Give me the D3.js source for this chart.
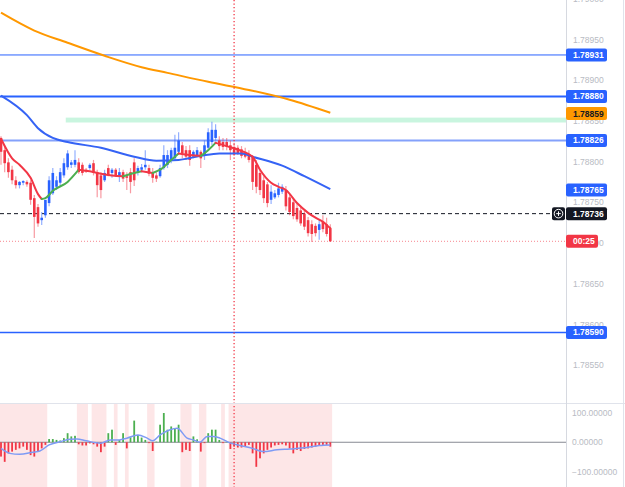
<!DOCTYPE html>
<html>
<head>
<meta charset="utf-8">
<script src="https://cdn.jsdelivr.net/npm/d3@7"></script>
<style>
  html, body { margin: 0; padding: 0; background: #fff; overflow: hidden; }
  svg { display: block; }
  text { font-family: "Liberation Sans", Arial, sans-serif; }
</style>
</head>
<body>
<svg id="chart"></svg>
<script>
// ---------- data ----------
// candles: [open, high, low, close]
const candles = [
  [1.78829, 1.78831, 1.78796, 1.78812], [1.78814, 1.78819, 1.78787, 1.78798],
  [1.78799, 1.78804, 1.78780, 1.78787], [1.78790, 1.78795, 1.78772, 1.78777],
  [1.78777, 1.78782, 1.78767, 1.78771], [1.78771, 1.78776, 1.78767, 1.78775],
  [1.78774, 1.78777, 1.78771, 1.78776], [1.78775, 1.78777, 1.78769, 1.78772],
  [1.78774, 1.78777, 1.78747, 1.78753], [1.78755, 1.78759, 1.78706, 1.78732],
  [1.78744, 1.78748, 1.78720, 1.78724], [1.78728, 1.78738, 1.78722, 1.78731],
  [1.78734, 1.78743, 1.78731, 1.78753], [1.78749, 1.78782, 1.78745, 1.78777],
  [1.78761, 1.78792, 1.78759, 1.78786], [1.78769, 1.78782, 1.78765, 1.78777],
  [1.78774, 1.78792, 1.78770, 1.78787], [1.78783, 1.78804, 1.78780, 1.78798],
  [1.78793, 1.78814, 1.78790, 1.78810], [1.78796, 1.78802, 1.78792, 1.78799],
  [1.78796, 1.78814, 1.78793, 1.78802], [1.78799, 1.78804, 1.78785, 1.78787],
  [1.78796, 1.78799, 1.78783, 1.78786], [1.78790, 1.78792, 1.78786, 1.78788],
  [1.78792, 1.78798, 1.78790, 1.78796], [1.78798, 1.78802, 1.78783, 1.78786],
  [1.78787, 1.78790, 1.78756, 1.78771], [1.78783, 1.78787, 1.78755, 1.78765],
  [1.78777, 1.78790, 1.78775, 1.78786], [1.78792, 1.78796, 1.78782, 1.78783],
  [1.78786, 1.78792, 1.78780, 1.78790], [1.78790, 1.78792, 1.78781, 1.78783],
  [1.78781, 1.78792, 1.78775, 1.78787], [1.78787, 1.78790, 1.78775, 1.78779],
  [1.78782, 1.78787, 1.78765, 1.78780], [1.78787, 1.78792, 1.78761, 1.78775],
  [1.78799, 1.78804, 1.78770, 1.78777], [1.78787, 1.78795, 1.78783, 1.78792],
  [1.78790, 1.78797, 1.78787, 1.78793], [1.78793, 1.78814, 1.78790, 1.78796],
  [1.78792, 1.78796, 1.78782, 1.78785], [1.78787, 1.78792, 1.78774, 1.78780],
  [1.78783, 1.78787, 1.78775, 1.78779], [1.78782, 1.78796, 1.78780, 1.78792],
  [1.78792, 1.78820, 1.78790, 1.78808], [1.78796, 1.78814, 1.78792, 1.78808],
  [1.78802, 1.78817, 1.78798, 1.78814], [1.78804, 1.78833, 1.78802, 1.78817],
  [1.78812, 1.78836, 1.78809, 1.78826], [1.78820, 1.78824, 1.78804, 1.78810],
  [1.78814, 1.78819, 1.78802, 1.78806], [1.78814, 1.78820, 1.78795, 1.78802],
  [1.78806, 1.78814, 1.78804, 1.78812], [1.78808, 1.78818, 1.78806, 1.78814],
  [1.78812, 1.78814, 1.78792, 1.78804], [1.78808, 1.78826, 1.78802, 1.78820],
  [1.78817, 1.78841, 1.78814, 1.78836], [1.78824, 1.78849, 1.78820, 1.78839],
  [1.78829, 1.78846, 1.78826, 1.78839], [1.78826, 1.78831, 1.78814, 1.78819],
  [1.78824, 1.78829, 1.78814, 1.78818], [1.78824, 1.78829, 1.78814, 1.78818],
  [1.78820, 1.78826, 1.78802, 1.78814], [1.78818, 1.78823, 1.78807, 1.78809],
  [1.78817, 1.78820, 1.78808, 1.78810], [1.78815, 1.78819, 1.78804, 1.78807],
  [1.78812, 1.78817, 1.78804, 1.78806], [1.78809, 1.78814, 1.78799, 1.78802],
  [1.78806, 1.78808, 1.78765, 1.78775], [1.78796, 1.78802, 1.78761, 1.78769],
  [1.78786, 1.78790, 1.78759, 1.78765], [1.78777, 1.78782, 1.78749, 1.78755],
  [1.78772, 1.78775, 1.78744, 1.78749], [1.78753, 1.78771, 1.78748, 1.78763],
  [1.78756, 1.78765, 1.78754, 1.78761], [1.78759, 1.78774, 1.78756, 1.78767],
  [1.78763, 1.78772, 1.78760, 1.78769], [1.78765, 1.78770, 1.78740, 1.78745],
  [1.78756, 1.78760, 1.78734, 1.78738], [1.78750, 1.78754, 1.78729, 1.78733],
  [1.78743, 1.78748, 1.78726, 1.78729], [1.78740, 1.78744, 1.78721, 1.78724],
  [1.78736, 1.78740, 1.78716, 1.78720], [1.78728, 1.78732, 1.78708, 1.78712],
  [1.78723, 1.78728, 1.78701, 1.78711], [1.78721, 1.78724, 1.78708, 1.78712],
  [1.78716, 1.78728, 1.78704, 1.78723], [1.78726, 1.78734, 1.78713, 1.78717],
  [1.78723, 1.78731, 1.78708, 1.78711], [1.78718, 1.78723, 1.78701, 1.78702]
];

// moving averages: [candle index, price]
const slowMa = [
  [0, 1.78983], [9, 1.78961], [18, 1.78946], [28, 1.78930], [38, 1.78916],
  [45, 1.78909], [56, 1.78898], [67, 1.78888], [78, 1.78876], [89, 1.78860]
];
const midMa = [
  [0, 1.78881], [7, 1.78857], [10, 1.78841], [14, 1.78829], [18, 1.78824],
  [27, 1.78817], [36, 1.78806], [42, 1.78801], [48, 1.78802], [54, 1.78807],
  [59, 1.78810], [65, 1.78810], [68, 1.78806], [76, 1.78795], [82, 1.78782],
  [89, 1.78766]
];
const fastMa = [
  [0, 1.78828], [3, 1.78804], [5, 1.78796], [8, 1.78780], [10, 1.78760],
  [11, 1.78754], [12, 1.78755], [14, 1.78764], [18, 1.78775], [21, 1.78790],
  [24, 1.78788], [27, 1.78785], [30, 1.78783], [33, 1.78782], [36, 1.78786],
  [38, 1.78788], [41, 1.78786], [43, 1.78790], [46, 1.78802], [48, 1.78810],
  [51, 1.78808], [54, 1.78807], [56, 1.78814], [58, 1.78823], [61, 1.78819],
  [65, 1.78813], [68, 1.78806], [70, 1.78790], [73, 1.78774], [75, 1.78769],
  [77, 1.78765], [80, 1.78749], [83, 1.78737], [85, 1.78731], [87, 1.78726],
  [89, 1.78718]
];

// oscillator histogram, one value per candle
const oscHist = [
  -49, -67, -38, -32, -26, -21, -15, -26, -44, -49, -32, -21, -9,
  11, 11, 8, 6, 14, 31, 20, 22,
  -7, -11, -11, -4, -7, -15, -34, -15,
  31, 43, -9, 8, 31, -21, 17, 74, 25, 16, 8, -3, -30, 2,
  60, 100, 43, 54, 48, 60, -34, -26, -30, 20, 10, -32, -3,
  31, 43, 43, 8, -3, 1, -23, -15, -18, -18, -15, -9, -38, -84, -55,
  -38, -26, -18, -11, -9, -7, -11, -21, -38, -26, -30, -23, -21, -18,
  -15, -11, -9, -9, -15
];
const oscSignal = [
  [0, -21], [2.4, -38], [5, -41], [8.6, -34], [10.5, -30], [13, -9], [16, 2],
  [18.6, 10], [20.5, 11], [23, 5], [27, -3], [29.5, 8], [32, 8], [34, 14],
  [37, 25], [39.5, 14], [41, 5], [43, 25], [45.7, 43], [47.6, 48], [50.3, 14],
  [52, 8], [53.8, 0], [55.7, 20], [57.3, 20], [59.2, 14], [62, -3], [64.6, -11],
  [68, -21], [70.8, -32], [74.6, -26], [78, -23], [82.7, -18], [86, -11], [89, -9]
];
// shaded candle ranges in the oscillator pane [from, to]
const redZones = [
  [0, 12], [21, 23], [25, 28], [31, 31], [34, 34], [40, 41],
  [49, 51], [54, 55], [60, 60], [62, 89]
];

const priceTicks = [1.79000, 1.78950, 1.78900, 1.78850, 1.78800, 1.78750,
                    1.78700, 1.78650, 1.78600, 1.78550];
const oscTicks = [100, 0, -100];

const levelPrices = [1.78931, 1.78880, 1.78826, 1.78590];
const zonePrices = [1.78848, 1.78854];
const zoneStart = 18;
const tagPrices = [1.78931, 1.78880, 1.78859, 1.78826, 1.78765, 1.78736, 1.78590];
const tagKinds = ["level", "level", "slow", "level", "mid", "cursor", "level"];
const cursorIndex = 63;
const cursorPrice = 1.78736;
const countdown = "00:25";

// ---------- layout ----------
const width = 625, height = 487;
const axisX = 566;
const paneSplit = 403;

const svg = d3.select("#chart").attr("width", width).attr("height", height);

const x = d3.scaleLinear().domain([0, candles.length - 1]).range([1, 330.3]);
const y = d3.scaleLinear().domain([1.78550, 1.78950]).range([365, 39.5]);
const yo = d3.scaleLinear().domain([-100, 100]).range([471.5, 413]);
const step = x(1) - x(0);

const red = "#f23645", blue = "#2962ff", green = "#4caf50", orange = "#ff9800";

svg.append("rect").attr("width", width).attr("height", height).attr("fill", "#fff");

const defs = svg.append("defs");
defs.append("clipPath").attr("id", "clipPrice")
  .append("rect").attr("width", axisX).attr("height", paneSplit);
defs.append("clipPath").attr("id", "clipOsc")
  .append("rect").attr("y", paneSplit).attr("width", axisX).attr("height", height - paneSplit);

// ================================
// OSCILLATOR PANE
// ================================
const osc = svg.append("g").attr("clip-path", "url(#clipOsc)");

osc.selectAll("rect.zone")
  .data(redZones)
  .join("rect")
  .attr("class", "zone")
  .attr("x", d => x(d[0]) - step / 2)
  .attr("width", d => x(d[1]) - x(d[0]) + step)
  .attr("y", paneSplit)
  .attr("height", height - paneSplit)
  .attr("fill", "#fde6e7");

osc.append("line")
  .attr("x1", 0).attr("x2", axisX)
  .attr("y1", yo(0)).attr("y2", yo(0))
  .attr("stroke", "#868993").attr("stroke-width", 1);

osc.selectAll("rect.hist")
  .data(oscHist)
  .join("rect")
  .attr("class", "hist")
  .attr("x", (d, i) => x(i) - 0.9)
  .attr("width", 1.8)
  .attr("y", d => Math.min(yo(d), yo(0)))
  .attr("height", d => Math.abs(yo(d) - yo(0)))
  .attr("fill", d => d >= 0 ? green : red);

osc.append("path")
  .datum(oscSignal)
  .attr("fill", "none")
  .attr("stroke", "#7e9bf5")
  .attr("stroke-width", 1.5)
  .attr("d", d3.line().x(d => x(d[0])).y(d => yo(d[1])).curve(d3.curveMonotoneX));

// ================================
// PRICE PANE
// ================================
const pane = svg.append("g").attr("clip-path", "url(#clipPrice)");

pane.append("rect")
  .attr("x", x(zoneStart) - step / 2)
  .attr("width", axisX)
  .attr("y", y(zonePrices[1]))
  .attr("height", y(zonePrices[0]) - y(zonePrices[1]))
  .attr("fill", "#c9f5df");

const levelStroke = ["#2962ff", "#2962ff", "#84a1fb", "#2962ff"];
const levelWidth = [1, 2, 2, 1.5];
pane.selectAll("line.level")
  .data(levelPrices)
  .join("line")
  .attr("class", "level")
  .attr("x1", 0).attr("x2", axisX)
  .attr("y1", d => y(d)).attr("y2", d => y(d))
  .attr("stroke", (d, i) => levelStroke[i])
  .attr("stroke-width", (d, i) => levelWidth[i]);

// last price dotted line
const lastPrice = candles[candles.length - 1][3];
pane.append("line")
  .attr("x1", 0).attr("x2", axisX)
  .attr("y1", y(lastPrice)).attr("y2", y(lastPrice))
  .attr("stroke", red).attr("stroke-opacity", 0.6)
  .attr("stroke-width", 1).attr("stroke-dasharray", "1,2");

// cursor dashed line
pane.append("line")
  .attr("x1", 0).attr("x2", 551)
  .attr("y1", y(cursorPrice)).attr("y2", y(cursorPrice))
  .attr("stroke", "#131722").attr("stroke-width", 1).attr("stroke-dasharray", "4,3");

// candles
const candleG = pane.selectAll("g.candle")
  .data(candles)
  .join("g")
  .attr("class", "candle");

candleG.append("line")
  .attr("x1", (d, i) => x(i)).attr("x2", (d, i) => x(i))
  .attr("y1", d => y(d[1])).attr("y2", d => y(d[2]))
  .attr("stroke", d => d[3] >= d[0] ? blue : red)
  .attr("stroke-opacity", 0.5)
  .attr("stroke-width", 1.2);

candleG.append("rect")
  .attr("x", (d, i) => x(i) - 1.3)
  .attr("width", 2.6)
  .attr("y", d => y(Math.max(d[0], d[3])))
  .attr("height", d => Math.max(1, Math.abs(y(d[0]) - y(d[3]))))
  .attr("fill", d => d[3] >= d[0] ? blue : red);

// moving averages
const maLine = d3.line().x(d => x(d[0])).y(d => y(d[1])).curve(d3.curveMonotoneX);

pane.append("path").datum(slowMa)
  .attr("fill", "none").attr("stroke", orange).attr("stroke-width", 2)
  .attr("d", maLine);

pane.append("path").datum(midMa)
  .attr("fill", "none").attr("stroke", "#3563f5").attr("stroke-width", 2)
  .attr("d", maLine);

// fast MA: split into rising / falling runs
const runs = [];
for (let i = 1; i < fastMa.length; i++) {
  const up = fastMa[i][1] > fastMa[i - 1][1];
  const last = runs[runs.length - 1];
  if (last && last.up === up) last.pts.push(fastMa[i]);
  else runs.push({ up: up, pts: [fastMa[i - 1], fastMa[i]] });
}
pane.selectAll("path.fast")
  .data(runs)
  .join("path")
  .attr("class", "fast")
  .attr("fill", "none")
  .attr("stroke", d => d.up ? green : red)
  .attr("stroke-width", 2)
  .attr("stroke-linecap", "round")
  .attr("d", d => maLine(d.pts));

// vertical dotted marker
svg.append("line")
  .attr("x1", x(cursorIndex)).attr("x2", x(cursorIndex))
  .attr("y1", 0).attr("y2", height)
  .attr("stroke", red).attr("stroke-width", 1.3)
  .attr("stroke-dasharray", "1.3,2.2");

// ================================
// AXES
// ================================
svg.append("line")
  .attr("x1", 0).attr("x2", width)
  .attr("y1", paneSplit + 0.5).attr("y2", paneSplit + 0.5)
  .attr("stroke", "#e0e3eb");
svg.append("line")
  .attr("x1", axisX + 0.5).attr("x2", axisX + 0.5)
  .attr("y1", 0).attr("y2", height)
  .attr("stroke", "#d6d9e0");
svg.append("line")
  .attr("x1", 623.5).attr("x2", 623.5)
  .attr("y1", 0).attr("y2", height)
  .attr("stroke", "#e0e3eb");

const fmt = d3.format(".5f");

const priceAxis = svg.append("g")
  .attr("transform", `translate(${axisX},0)`)
  .call(d3.axisRight(y).tickValues(priceTicks).tickFormat(fmt).tickSize(0).tickPadding(7));
const oscAxis = svg.append("g")
  .attr("transform", `translate(${axisX},0)`)
  .call(d3.axisRight(yo).tickValues(oscTicks).tickFormat(fmt).tickSize(0).tickPadding(6));

[priceAxis, oscAxis].forEach(a => {
  a.select(".domain").remove();
  a.selectAll("text")
    .attr("fill", "#b8bbc3")
    .style("font-size", "8.5px")
    .style("font-family", "'Liberation Sans', Arial, sans-serif");
});

// price tags
const tagFill = { level: blue, slow: orange, mid: blue, cursor: "#131722" };
const tagText = { level: "#fff", slow: "#131722", mid: "#fff", cursor: "#fff" };

const tags = svg.selectAll("g.tag")
  .data(tagPrices)
  .join("g")
  .attr("class", "tag")
  .attr("transform", d => `translate(${axisX}, ${y(d)})`);

tags.append("rect")
  .attr("x", 0).attr("y", -6.5)
  .attr("width", 41).attr("height", 13).attr("rx", 2)
  .attr("fill", (d, i) => tagFill[tagKinds[i]]);

tags.append("text")
  .attr("x", 7).attr("dy", "0.35em")
  .attr("fill", (d, i) => tagText[tagKinds[i]])
  .style("font-size", "8.5px")
  .style("font-weight", "bold")
  .text(d => fmt(d));

// countdown tag
const cd = svg.append("g").attr("transform", `translate(${axisX}, ${y(lastPrice)})`);
cd.append("rect")
  .attr("x", 0).attr("y", -6.5)
  .attr("width", 32).attr("height", 13).attr("rx", 2)
  .attr("fill", red);
cd.append("text")
  .attr("x", 7).attr("dy", "0.35em")
  .attr("fill", "#fff")
  .style("font-size", "8.5px")
  .style("font-weight", "bold")
  .text(countdown);

// plus icon by cursor tag
const icon = svg.append("g").attr("transform", `translate(558.5, ${y(cursorPrice)})`);
icon.append("rect")
  .attr("x", -6.5).attr("y", -6.5).attr("width", 13).attr("height", 13).attr("rx", 2)
  .attr("fill", "#131722");
icon.append("circle").attr("r", 4.3)
  .attr("fill", "none").attr("stroke", "#fff").attr("stroke-width", 1);
icon.append("path").attr("d", "M-2.3,0H2.3M0,-2.3V2.3")
  .attr("stroke", "#fff").attr("stroke-width", 1);
</script>
</body>
</html>
